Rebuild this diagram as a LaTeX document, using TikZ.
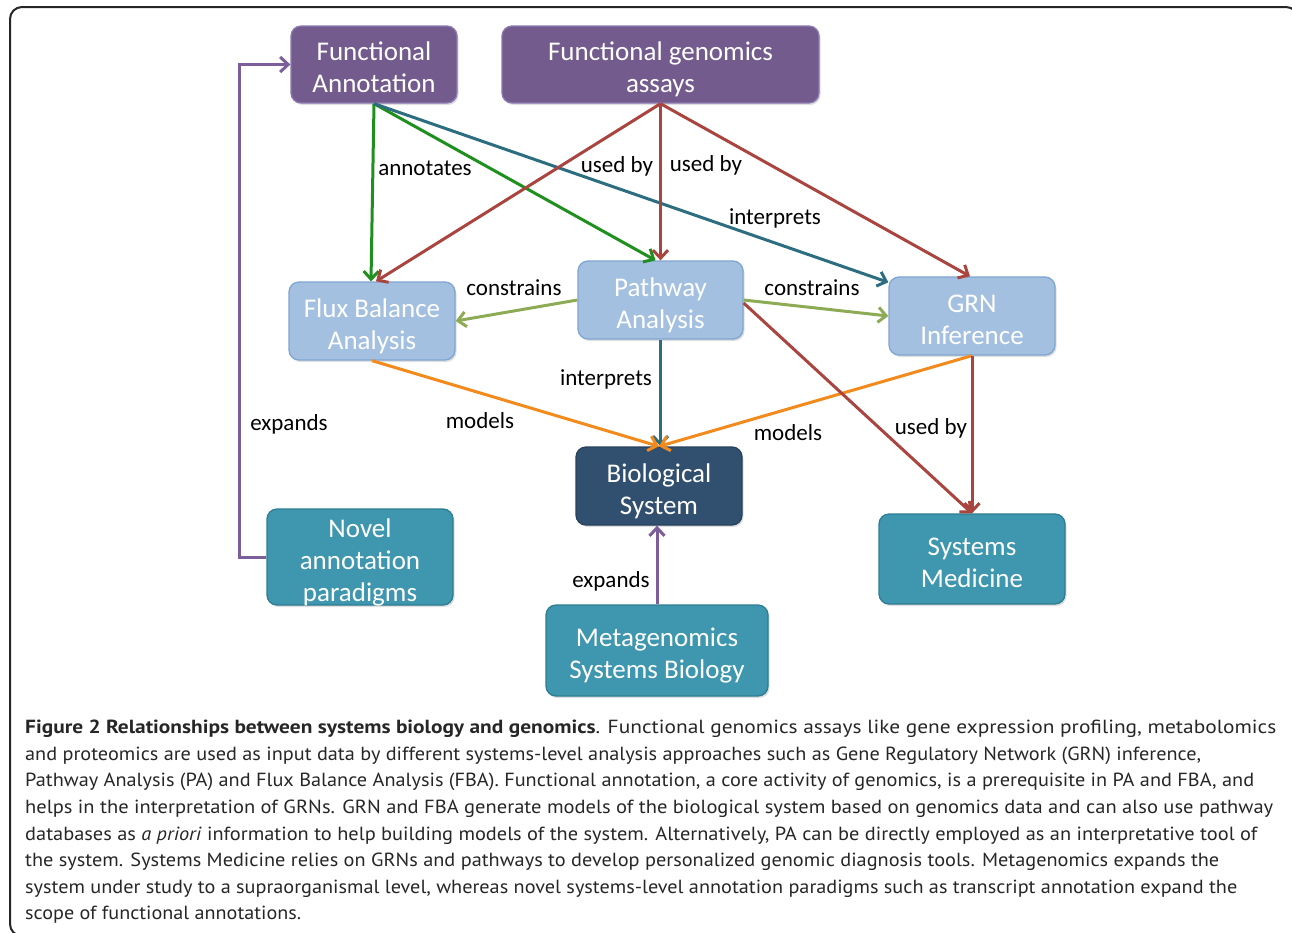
\documentclass[tikz,border=0pt]{standalone}
\usepackage{fontspec}
\setmainfont{Carlito}
\newfontfamily\capfont{PT Sans}
\usetikzlibrary{arrows.meta,shadows}
\definecolor{purpfill}{HTML}{735B8E}
\definecolor{purpdraw}{HTML}{8C7AB2}
\definecolor{lbfill}{HTML}{A4C0E0}
\definecolor{lbdraw}{HTML}{7FA5D0}
\definecolor{navyfill}{HTML}{31506F}
\definecolor{navydraw}{HTML}{27415C}
\definecolor{tealfill}{HTML}{3E97AF}
\definecolor{tealdraw}{HTML}{2D7D93}
\definecolor{cgreen}{HTML}{1F8F1F}
\definecolor{cinterp}{HTML}{2C6E7F}
\definecolor{cred}{HTML}{A9443F}
\definecolor{clgreen}{HTML}{8DAA55}
\definecolor{corange}{HTML}{F28A1C}
\definecolor{cpurple}{HTML}{7B5E9A}
\newcommand{\bt}[2][-6pt]{\raisebox{#1}[\height][\depth]{\begin{tabular}{@{}c@{}}#2\end{tabular}}}
\newcommand{\capline}[2]{\resizebox{#1}{\height}{#2}}
\tikzset{
  boxbase/.style={draw, line width=1.3pt, rounded corners=10pt, text=white, align=center,
    font=\fontsize{27}{32}\selectfont, inner sep=0pt,
    drop shadow={opacity=0.25, shadow xshift=1.5pt, shadow yshift=-2pt}},
  purplebox/.style={boxbase, fill=purpfill, draw=purpdraw},
  lightbox/.style={boxbase, fill=lbfill, draw=lbdraw},
  navybox/.style={boxbase, fill=navyfill, draw=navydraw},
  tealbox/.style={boxbase, fill=tealfill, draw=tealdraw},
  conn/.style={line width=3pt, -{Straight Barb[length=8pt,width=15pt]}},
  ann/.style={conn, draw=cgreen},
  interp/.style={conn, draw=cinterp},
  usedby/.style={conn, draw=cred},
  constr/.style={conn, draw=clgreen},
  models/.style={conn, draw=corange},
  expands/.style={conn, draw=cpurple},
  lab/.style={anchor=base, inner sep=0pt, font=\fontsize{23}{28}\selectfont, text=black}
}
\begin{document}
\begin{tikzpicture}[x=1pt,y=-1pt]
\useasboundingbox (0,0) rectangle (1292,932);
\clip (0,0) rectangle (1292,932);
\draw[line width=2pt, rounded corners=12pt, black!85] (10,7) rectangle (1298,936);

% nodes
\node[purplebox, minimum width=166pt, minimum height=77pt] (FA) at (374,64.5) {\bt{Functional\\Annotation}};
\node[purplebox, minimum width=317pt, minimum height=77pt] (FGA) at (660.5,64.5) {\bt{Functional genomics\\assays}};
\node[lightbox, minimum width=166pt, minimum height=78pt] (FBA) at (372,321) {\bt{Flux Balance\\Analysis}};
\node[lightbox, minimum width=165pt, minimum height=78pt] (PA) at (660.5,300) {\bt{Pathway\\Analysis}};
\node[lightbox, minimum width=166pt, minimum height=78pt] (GRN) at (972,316) {\bt{GRN\\Inference}};
\node[navybox, minimum width=166pt, minimum height=78pt] (BS) at (659,486) {\bt{Biological\\System}};
\node[tealbox, minimum width=186pt, minimum height=94pt] (NAP) at (360,557) {\bt{Novel\\annotation\\paradigms}};
\node[tealbox, minimum width=186pt, minimum height=90pt] (SM) at (972,559) {\bt{Systems\\Medicine}};
\node[tealbox, minimum width=222pt, minimum height=91pt] (MSB) at (657,650.5) {\bt{Metagenomics\\Systems Biology}};

% connectors
\draw[ann] (FA.south) -- ([xshift=-1pt]FBA.north);
\draw[ann] (FA.south) -- ([xshift=-5pt]PA.north);
\draw[interp] (FA.south) -- ([yshift=-6pt]GRN.north west);
\draw[usedby] (FGA.south) -- ([xshift=4pt]FBA.north);
\draw[usedby] (FGA.south) -- (PA.north);
\draw[usedby] (FGA.south) -- ([xshift=-2pt]GRN.north);
\draw[constr] (PA.west) -- (FBA.east);
\draw[constr] (PA.east) -- (GRN.west);
\draw[interp] (PA.south) -- (PA.south |- BS.north);
\draw[models] (FBA.south) -- (BS.north);
\draw[models] (GRN.south) -- (BS.north);
\draw[usedby] ([yshift=-3pt]PA.east) -- (SM.north);
\draw[usedby] (GRN.south) -- (SM.north);
\draw[expands] (MSB.north) -- (MSB.north |- BS.south);
\draw[expands] (NAP.west) -- ++(-27,0) |- (FA.west);

% labels
\node[lab] (l1) at (425,175) {annotates};
\node[lab] (l2) at (617,172) {used by};
\node[lab] (l3) at (706,171) {used by};
\node[lab] (l4) at (775,224) {interprets};
\node[lab] (l5) at (514,295) {constrains};
\node[lab] (l6) at (812,295) {constrains};
\node[lab] (l7) at (606,385) {interprets};
\node[lab] (l8) at (480,428) {models};
\node[lab] (l9) at (788,440) {models};
\node[lab] (l10) at (931,434) {used by};
\node[lab] (l11) at (289,430) {expands};
\node[lab] (l12) at (611,587) {expands};

% caption
\node[anchor=north west, align=left, inner sep=0pt, text=black!85,
      font=\capfont\fontsize{19}{26.6}\selectfont] (cap) at (25,720) {%
\capline{1251pt}{\textbf{Figure 2 Relationships between systems biology and genomics}. Functional genomics assays like gene expression profiling, metabolomics}\\
\capline{1176pt}{and proteomics are used as input data by different systems-level analysis approaches such as Gene Regulatory Network (GRN) inference,}\\
\capline{1229pt}{Pathway Analysis (PA) and Flux Balance Analysis (FBA). Functional annotation, a core activity of genomics, is a prerequisite in PA and FBA, and}\\
\capline{1248pt}{helps in the interpretation of GRNs. GRN and FBA generate models of the biological system based on genomics data and can also use pathway}\\
\capline{1232pt}{databases as \textit{a priori} information to help building models of the system. Alternatively, PA can be directly employed as an interpretative tool of}\\
\capline{1194pt}{the system. Systems Medicine relies on GRNs and pathways to develop personalized genomic diagnosis tools. Metagenomics expands the}\\
\capline{1212pt}{system under study to a supraorganismal level, whereas novel systems-level annotation paradigms such as transcript annotation expand the}\\
\capline{276pt}{scope of functional annotations.}};
\end{tikzpicture}
\end{document}
